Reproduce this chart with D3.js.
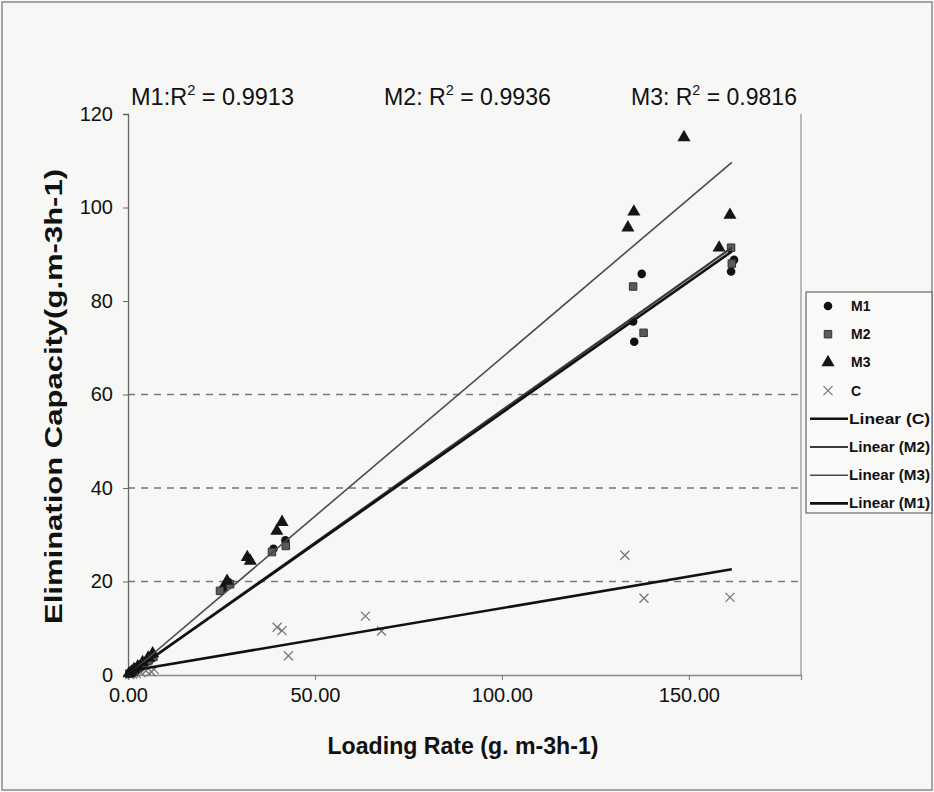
<!DOCTYPE html>
<html>
<head>
<meta charset="utf-8">
<script src="https://cdn.jsdelivr.net/npm/d3@7"></script>
<style>
  html, body { margin: 0; padding: 0; background: #f7f7f5; }
  svg { display: block; }
  text { font-family: Arial, "Liberation Sans", sans-serif; fill: #111; }
</style>
</head>
<body>
<svg id="chart" width="934" height="792"></svg>
<script>
// Measured points, [loading rate, elimination capacity]
const m1Points = [
  [0.3, 0.2], [0.8, 0.5], [1.5, 0.9], [2.5, 1.4], [3.8, 2.1], [5.2, 3.0], [6.5, 3.6],
  [25.5, 18.6], [27.0, 19.8], [38.9, 27.0], [42.1, 28.8],
  [135.4, 71.3], [135.1, 75.6], [137.4, 85.8], [161.3, 86.3], [162.1, 88.8]
];
const m2Points = [
  [0.4, 0.3], [1.0, 0.6], [1.8, 1.0], [2.8, 1.6], [4.0, 2.3], [5.5, 3.1], [6.8, 3.9],
  [24.6, 18.0], [27.3, 19.4], [38.5, 26.3], [42.2, 27.6],
  [135.1, 83.1], [137.9, 73.2], [161.5, 88.0], [161.3, 91.4]
];
const m3Points = [
  [0.3, 0.3], [0.9, 0.7], [1.6, 1.2], [2.6, 1.8], [3.9, 2.7], [5.4, 3.7], [6.6, 4.6],
  [26.5, 20.1], [31.9, 25.2], [32.7, 24.4], [39.8, 30.8], [41.2, 32.7],
  [133.7, 95.7], [135.3, 99.1], [148.7, 115.0], [158.1, 91.4], [161.0, 98.4]
];
const cPoints = [
  [0.5, 0.1], [1.2, 0.2], [2.2, 0.3], [3.5, 0.5], [4.8, 0.9], [6.2, 0.7], [7.0, 1.2],
  [39.9, 10.2], [41.2, 9.5], [42.9, 4.1], [63.5, 12.6], [67.8, 9.4],
  [132.9, 25.6], [138.0, 16.4], [161.0, 16.6]
];

// Linear trend lines: name, slope, intercept, x-range
const fitNames = ["C", "M2", "M3", "M1"];
const fitSlopes = [0.135, 0.566, 0.679, 0.561];
const fitIntercepts = [0.8, 0.0, 0.0, 0.0];
const fitRange = [0, 161.5];

// R² annotations
const r2Labels = ["M1:", "M2: ", "M3: "];
const r2Values = ["0.9913", "0.9936", "0.9816"];

const xTicks = [0, 50, 100, 150];
const yTicks = [0, 20, 40, 60, 80, 100, 120];
const gridValues = [20, 40, 60];

const svg = d3.select("#chart");
const W = 934, H = 792;
const plot = { left: 128, right: 801, top: 114, bottom: 675 };

const x = d3.scaleLinear().domain([0, 180]).range([plot.left, plot.right]);
const y = d3.scaleLinear().domain([0, 120]).range([plot.bottom, plot.top]);

// outer frame
svg.append("rect").attr("x", 2).attr("y", 2).attr("width", W - 4).attr("height", H - 4)
  .attr("fill", "#f7f7f5").attr("stroke", "#8a8a8a").attr("stroke-width", 1.5);

// dashed gridlines
svg.append("g").selectAll("line").data(gridValues).join("line")
  .attr("x1", plot.left).attr("x2", plot.right)
  .attr("y1", d => y(d)).attr("y2", d => y(d))
  .attr("stroke", "#777").attr("stroke-width", 1.3).attr("stroke-dasharray", "7,6");

// right border of plot area
svg.append("line").attr("x1", plot.right).attr("x2", plot.right)
  .attr("y1", plot.top).attr("y2", plot.bottom)
  .attr("stroke", "#999").attr("stroke-width", 1.3);

// axes
const xAxis = d3.axisBottom(x).tickValues(xTicks).tickFormat(d3.format(".2f")).tickSize(5).tickPadding(8);
const yAxis = d3.axisLeft(y).tickValues(yTicks).tickFormat(d3.format("d")).tickSize(5).tickPadding(10);

const gx = svg.append("g").attr("transform", `translate(0,${plot.bottom})`).call(xAxis);
gx.select(".domain").attr("stroke", "#888").attr("stroke-width", 1.3);
gx.selectAll(".tick line").attr("stroke", "#777");
gx.selectAll("text").attr("font-size", 20).attr("fill", "#111");

const gy = svg.append("g").attr("transform", `translate(${plot.left},0)`).call(yAxis);
gy.select(".domain").attr("stroke", "#666").attr("stroke-width", 1.3);
gy.selectAll(".tick line").attr("stroke", "#666");
gy.selectAll("text").attr("font-size", 20).attr("fill", "#111");

// axis titles (narrow, tall lettering)
svg.append("text").attr("x", 463).attr("y", 754).attr("text-anchor", "middle")
  .attr("font-size", 24).attr("font-weight", "bold")
  .attr("textLength", 271).attr("lengthAdjust", "spacingAndGlyphs")
  .text("Loading Rate (g. m-3h-1)");
svg.append("text").attr("transform", `translate(62,${(plot.top + plot.bottom) / 2 + 2}) rotate(-90)`)
  .attr("text-anchor", "middle").attr("font-size", 23).attr("font-weight", "bold")
  .attr("textLength", 455).attr("lengthAdjust", "spacingAndGlyphs")
  .text("Elimination Capacity(g.m-3h-1)");

// R² annotations
const r2X = [131, 384, 631];
const r2W = [163, 167, 166];
r2Labels.forEach((lab, i) => {
  const g = svg.append("g");
  const t = g.append("text").attr("x", 0).attr("y", 0).attr("font-size", 24);
  t.append("tspan").text(lab + "R");
  t.append("tspan").attr("font-size", 15).attr("dy", -10).text("2");
  t.append("tspan").attr("dy", 10).text(" = " + r2Values[i]);
  const bw = t.node().getBBox().width;
  g.attr("transform", `translate(${r2X[i]},105) scale(${r2W[i] / bw},1)`);
});

// trend lines
const fitStyles = {
  C: { stroke: "#111", width: 2.6 },
  M2: { stroke: "#3a3a3a", width: 2.2 },
  M3: { stroke: "#4a4a4a", width: 1.6 },
  M1: { stroke: "#111", width: 2.6 }
};
const line = d3.line().x(d => x(d[0])).y(d => y(d[1]));
const fits = fitNames.map((n, i) => ({
  name: n,
  pts: fitRange.map(v => [v, fitSlopes[i] * v + fitIntercepts[i]])
}));

// marker drawing helpers
const sym = {
  M1: d3.symbol().type(d3.symbolCircle).size(58),
  M2: d3.symbol().type(d3.symbolSquare).size(56),
  M3: d3.symbol().type(d3.symbolTriangle).size(74)
};
const fillOf = { M1: "#111", M2: "#5a5a5a", M3: "#151515" };

function drawMarker(g, name, cx, cy) {
  if (name === "C") {
    const s = 4.5;
    g.append("path")
      .attr("d", `M${cx - s},${cy - s}L${cx + s},${cy + s}M${cx - s},${cy + s}L${cx + s},${cy - s}`)
      .attr("stroke", "#777").attr("stroke-width", 1.3).attr("fill", "none");
  } else {
    g.append("path").attr("d", sym[name]())
      .attr("transform", `translate(${cx},${cy})`)
      .attr("fill", fillOf[name])
      .attr("stroke", name === "M2" ? "#333" : "none").attr("stroke-width", 1);
  }
}

const gPts = svg.append("g");
const seriesList = [["C", cPoints], ["M1", m1Points], ["M2", m2Points], ["M3", m3Points]];
seriesList.forEach(([name, pts]) => {
  pts.forEach(p => drawMarker(gPts, name, x(p[0]), y(p[1])));
});

svg.append("g").selectAll("path").data(fits).join("path")
  .attr("d", d => line(d.pts))
  .attr("fill", "none")
  .attr("stroke", d => fitStyles[d.name].stroke)
  .attr("stroke-width", d => fitStyles[d.name].width);

// legend
const leg = svg.append("g");
leg.append("rect").attr("x", 806).attr("y", 292).attr("width", 126).attr("height", 221)
  .attr("fill", "#f9f9f7").attr("stroke", "#666").attr("stroke-width", 1.2);
const legendItems = ["M1", "M2", "M3", "C"].map(n => ({ kind: "pt", name: n, label: n }))
  .concat(fitNames.map(n => ({ kind: "fit", name: n, label: `Linear (${n})` })));
legendItems.forEach((d, i) => {
  const cy = 306 + i * 28.2;
  if (d.kind === "pt") {
    drawMarker(leg, d.name, 828, cy);
    leg.append("text").attr("x", 851).attr("y", cy + 5).attr("font-size", 14)
      .attr("font-weight", "bold").text(d.label);
  } else {
    leg.append("line").attr("x1", 810).attr("x2", 848).attr("y1", cy).attr("y2", cy)
      .attr("stroke", fitStyles[d.name].stroke).attr("stroke-width", fitStyles[d.name].width);
    leg.append("text").attr("x", 849).attr("y", cy + 5).attr("font-size", 14)
      .attr("font-weight", "bold").attr("textLength", 81).attr("lengthAdjust", "spacingAndGlyphs")
      .text(d.label);
  }
});
</script>
</body>
</html>
